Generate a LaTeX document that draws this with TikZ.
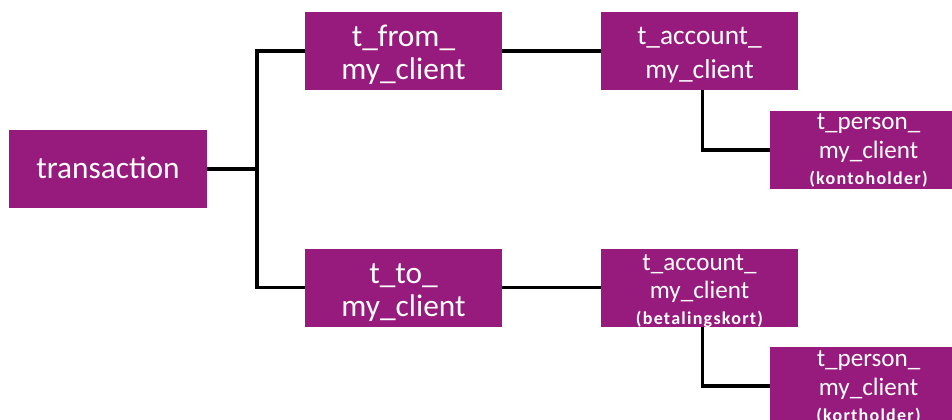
\documentclass[tikz,border=0pt]{standalone}
\usepackage{fontspec}
\setmainfont{Carlito}
\definecolor{boxpurple}{RGB}{150,27,125}
\newcommand{\bigtxt}{\fontsize{23.5pt}{24.75pt}\selectfont}
\newcommand{\midtxt}{\fontsize{20.5pt}{25.5pt}\selectfont}
\newcommand{\smltxt}{\fontsize{18.8pt}{21.75pt}\selectfont}
\newcommand{\tinytxt}{\addfontfeature{LetterSpace=7}\bfseries\fontsize{13.5pt}{19.5pt}\selectfont}
\tikzset{
  px/.style={x=0.75pt,y=-0.75pt},
  box/.style={fill=boxpurple,text=white,align=center,inner sep=0pt,
    minimum width=147.75pt,minimum height=58.5pt},
  bigbox/.style={box,font=\bigtxt},
  midbox/.style={box,font=\midtxt},
  smlbox/.style={box,font=\smltxt},
  conn/.style={draw=black,line width=2.4pt},
}
\begin{document}
\begin{tikzpicture}[px]
\useasboundingbox (0,0) rectangle (952,420);
\clip (0,0) rectangle (952,420);
\node[bigbox,minimum width=148.5pt,text height=36.75pt,text depth=21.75pt] (tr) at (108,169) {transaction};
\node[bigbox,text height=51pt,text depth=7.5pt] (from) at (403.5,51) {t\_from\_\\my\_client};
\node[bigbox,text height=51pt,text depth=7.5pt] (to) at (403.5,287.5) {t\_to\_\\my\_client};
\node[midbox,text height=50.25pt,text depth=8.25pt] (acc1) at (699.5,51) {t\_account\_\\my\_client};
\node[smlbox,text height=57pt,text depth=1.5pt] (acc2) at (699.5,287.5) {t\_account\_\\[-0.4pt]my\_client\\[-2.25pt]{\tinytxt (betalingskort)}};
\node[smlbox,text height=55.5pt,text depth=3pt] (p1) at (868.5,150) {t\_person\_\\my\_client\\[-2.25pt]{\tinytxt (kontoholder)}};
\node[smlbox,text height=55.5pt,text depth=3pt] (p2) at (868.5,386) {t\_person\_\\my\_client\\[-2.25pt]{\tinytxt (kortholder)}};
\coordinate (bus) at (257,169);
\draw[conn] (tr.east) -- (bus);
\draw[conn] (bus) |- (from.west);
\draw[conn] (bus) |- (to.west);
\draw[conn] (from.east) -- (acc1.west);
\draw[conn] (to.east) -- (acc2.west);
\draw[conn] ([xshift=2]acc1.south) |- (p1.west);
\draw[conn] ([xshift=2]acc2.south) |- (p2.west);
\end{tikzpicture}
\end{document}
